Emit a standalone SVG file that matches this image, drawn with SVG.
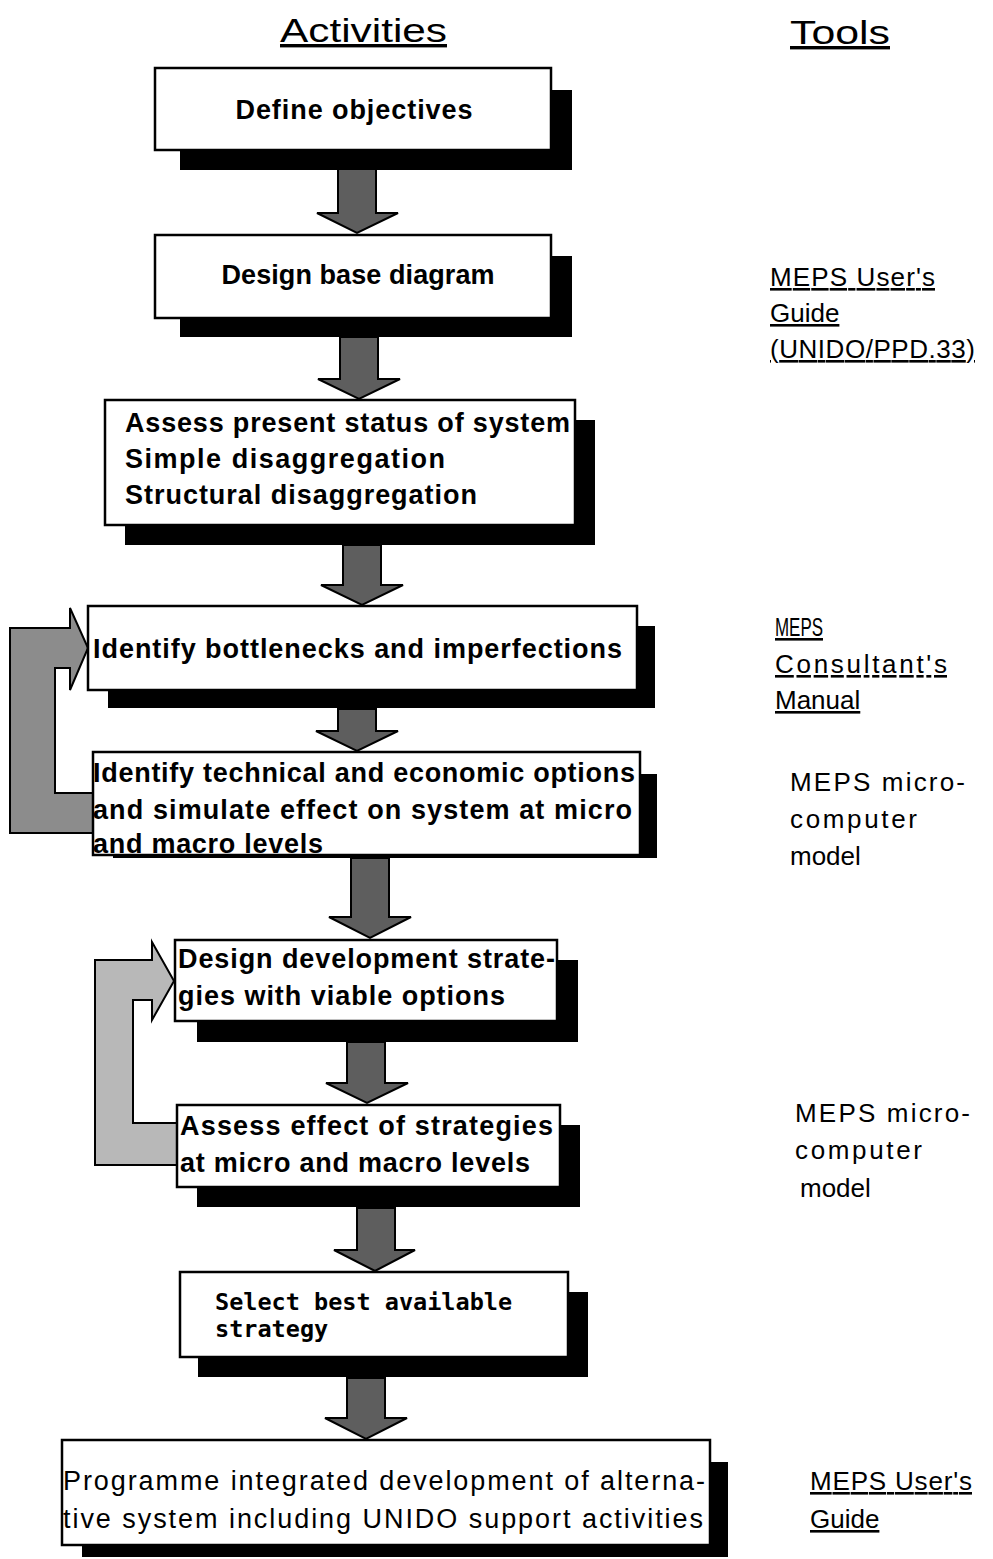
<svg xmlns="http://www.w3.org/2000/svg" width="993" height="1559" viewBox="0 0 993 1559">
<style>
.box{fill:#fff;stroke:#000;stroke-width:2.5}
.sh{fill:#000}
.arr{fill:#5e5e5e;stroke:#000;stroke-width:2;stroke-linejoin:miter}
.loop1{fill:#8c8c8c;stroke:#000;stroke-width:2}
.loop2{fill:#b8b8b8;stroke:#000;stroke-width:2}
.t{font-family:"Liberation Sans",Arial,sans-serif;font-size:27px;font-weight:bold;fill:#000}
.tr{font-family:"Liberation Sans",Arial,sans-serif;font-size:27px;fill:#000}
.tm{font-family:"DejaVu Sans Mono",monospace;font-size:23.5px;font-weight:bold;fill:#000}
.hd{font-family:"Liberation Sans",Arial,sans-serif;font-size:34px;fill:#000;text-decoration:underline}
.tool{font-family:"Liberation Sans",Arial,sans-serif;font-size:26px;fill:#000}
.ul{text-decoration:underline}
</style>
<rect width="993" height="1559" fill="#fff"/>

<g id="headers">
<text class="hd" x="280" y="42" textLength="167" lengthAdjust="spacingAndGlyphs">Activities</text>
<text class="hd" x="790" y="44" textLength="100" lengthAdjust="spacingAndGlyphs">Tools</text>
</g>

<g id="connectors">
<path class="arr" d="M338,169 L376,169 L376,213 L398,213 L357,233 L317,213 L338,213 Z"/>
<path class="arr" d="M340,337 L378,337 L378,379 L400,379 L359,399 L318,379 L340,379 Z"/>
<path class="arr" d="M343,545 L381,545 L381,585 L403,585 L362,605 L321,585 L343,585 Z"/>
<path class="arr" d="M338,709 L376,709 L376,731 L398,731 L357,751 L316,731 L338,731 Z"/>
<path class="arr" d="M351,858 L389,858 L389,917 L411,917 L370,938 L329,917 L351,917 Z"/>
<path class="arr" d="M347,1042 L385,1042 L385,1083 L408,1083 L367,1103 L326,1083 L347,1083 Z"/>
<path class="arr" d="M357,1208 L395,1208 L395,1250 L415,1250 L375,1271 L334,1250 L357,1250 Z"/>
<path class="arr" d="M347,1378 L385,1378 L385,1418 L407,1418 L366,1439 L325,1418 L347,1418 Z"/>
<path class="loop1" d="M93,793 L55,793 L55,668 L70,668 L70,690 L88,648 L70,608 L70,628 L10,628 L10,833 L93,833 Z"/>
<path class="loop2" d="M177,1123 L133,1123 L133,1000 L152,1000 L152,1020 L174,981 L152,942 L152,960 L95,960 L95,1165 L177,1165 Z"/>
</g>

<g id="n1">
<rect class="sh" x="180" y="90" width="392" height="80"/>
<rect class="box" x="155" y="68" width="396" height="82"/>
<text class="t" x="354" y="119" text-anchor="middle" textLength="237">Define  objectives</text>
</g>

<g id="n2">
<rect class="sh" x="180" y="256" width="392" height="81"/>
<rect class="box" x="155" y="235" width="396" height="83"/>
<text class="t" x="358" y="284" text-anchor="middle" textLength="273">Design base diagram</text>
</g>

<g id="n3">
<rect class="sh" x="125" y="420" width="470" height="125"/>
<rect class="box" x="105" y="400" width="470" height="125"/>
<text class="t" x="125" y="432" textLength="445">Assess present status of system</text>
<text class="t" x="125" y="468" textLength="320">Simple disaggregation</text>
<text class="t" x="125" y="504" textLength="352">Structural disaggregation</text>
</g>

<g id="n4">
<rect class="sh" x="108" y="626" width="547" height="82"/>
<rect class="box" x="88" y="606" width="549" height="84"/>
<text class="t" x="93" y="658" textLength="529">Identify bottlenecks and imperfections</text>
</g>

<g id="n5">
<rect class="sh" x="113" y="774" width="544" height="84"/>
<rect class="box" x="93" y="752" width="547" height="103"/>
<text class="t" x="93" y="782" textLength="542">Identify technical and economic options</text>
<text class="t" x="93" y="819" textLength="539">and simulate effect on system at micro</text>
<text class="t" x="93" y="853" textLength="230">and macro levels</text>
</g>

<g id="n6">
<rect class="sh" x="197" y="960" width="381" height="82"/>
<rect class="box" x="175" y="940" width="382" height="81"/>
<text class="t" x="178" y="968" textLength="377">Design development strate-</text>
<text class="t" x="178" y="1005" textLength="327">gies with viable options</text>
</g>

<g id="n7">
<rect class="sh" x="197" y="1125" width="383" height="82"/>
<rect class="box" x="177" y="1105" width="383" height="82"/>
<text class="t" x="180" y="1135" textLength="373">Assess effect of strategies</text>
<text class="t" x="180" y="1172" textLength="350">at micro and macro levels</text>
</g>

<g id="n8">
<rect class="sh" x="198" y="1292" width="390" height="85"/>
<rect class="box" x="180" y="1272" width="388" height="85"/>
<text class="tm" x="215" y="1310">Select best available</text>
<text class="tm" x="215" y="1337">strategy</text>
</g>

<g id="n9">
<rect class="sh" x="82" y="1462" width="646" height="95"/>
<rect class="box" x="62" y="1440" width="648" height="105"/>
<text class="tr" x="63" y="1490" textLength="642">Programme integrated development of alterna-</text>
<text class="tr" x="63" y="1528" textLength="640">tive system including UNIDO support activities</text>
</g>

<g id="tools1">
<text class="tool ul" x="770" y="286" textLength="165">MEPS User's</text>
<text class="tool ul" x="770" y="322">Guide</text>
<text class="tool ul" x="770" y="358" textLength="205">(UNIDO/PPD.33)</text>
</g>
<g id="tools2">
<text class="tool ul" x="775" y="636" textLength="48" lengthAdjust="spacingAndGlyphs">MEPS</text>
<text class="tool ul" x="775" y="673" textLength="172">Consultant's</text>
<text class="tool ul" x="775" y="709">Manual</text>
</g>
<g id="tools3">
<text class="tool" x="790" y="791" textLength="175">MEPS micro-</text>
<text class="tool" x="790" y="828" textLength="127">computer</text>
<text class="tool" x="790" y="865">model</text>
</g>
<g id="tools4">
<text class="tool" x="795" y="1122" textLength="175">MEPS micro-</text>
<text class="tool" x="795" y="1159" textLength="127">computer</text>
<text class="tool" x="800" y="1197">model</text>
</g>
<g id="tools5">
<text class="tool ul" x="810" y="1490" textLength="162">MEPS User's</text>
<text class="tool ul" x="810" y="1528">Guide</text>
</g>
</svg>
